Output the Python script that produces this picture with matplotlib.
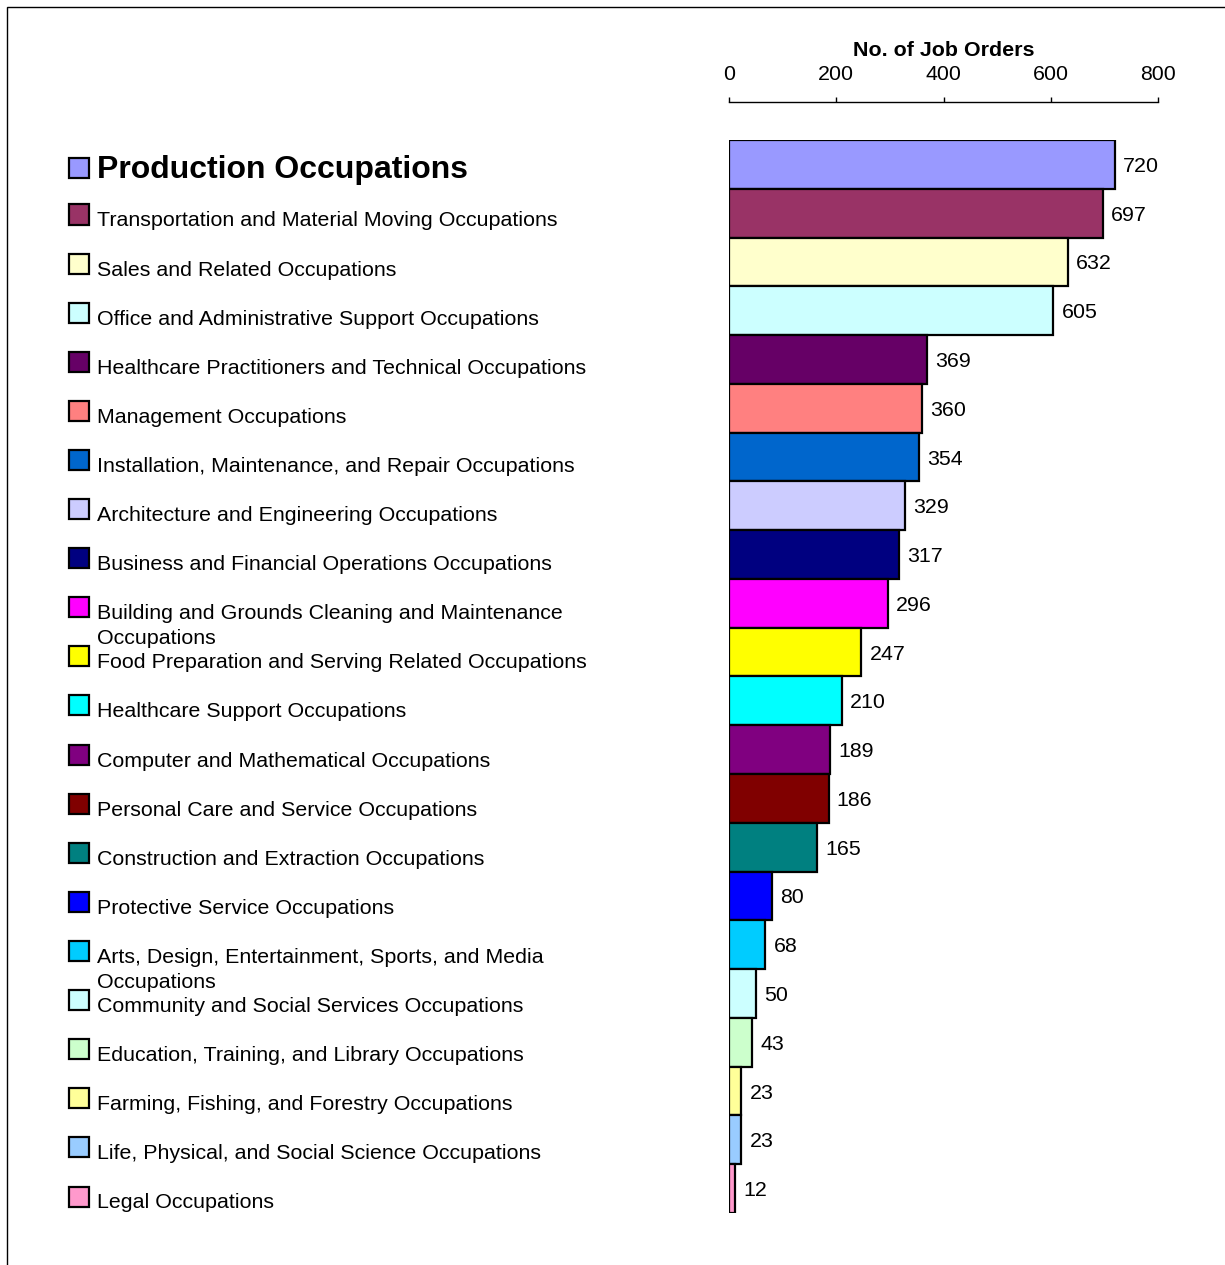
#!/usr/bin/env python3
"""Job orders by occupation group, horizontal bars with a side legend."""
import matplotlib
matplotlib.use("Agg")
import matplotlib.pyplot as plt
from matplotlib.patches import Rectangle

plt.rcParams["font.family"] = ["Liberation Sans", "DejaVu Sans"]

occupations = [
    "Production Occupations",
    "Transportation and Material Moving Occupations",
    "Sales and Related Occupations",
    "Office and Administrative Support Occupations",
    "Healthcare Practitioners and Technical Occupations",
    "Management Occupations",
    "Installation, Maintenance, and Repair Occupations",
    "Architecture and Engineering Occupations",
    "Business and Financial Operations Occupations",
    "Building and Grounds Cleaning and Maintenance\nOccupations",
    "Food Preparation and Serving Related Occupations",
    "Healthcare Support Occupations",
    "Computer and Mathematical Occupations",
    "Personal Care and Service Occupations",
    "Construction and Extraction Occupations",
    "Protective Service Occupations",
    "Arts, Design, Entertainment, Sports, and Media\nOccupations",
    "Community and Social Services Occupations",
    "Education, Training, and Library Occupations",
    "Farming, Fishing, and Forestry Occupations",
    "Life, Physical, and Social Science Occupations",
    "Legal Occupations",
]
job_orders = [720, 697, 632, 605, 369, 360, 354, 329, 317, 296, 247,
              210, 189, 186, 165, 80, 68, 50, 43, 23, 23, 12]
colors = ["#9999FF", "#993366", "#FFFFCC", "#CCFFFF", "#660066", "#FF8080",
          "#0066CC", "#CCCCFF", "#000080", "#FF00FF", "#FFFF00", "#00FFFF",
          "#800080", "#800000", "#008080", "#0000FF", "#00CCFF", "#CCFFFF",
          "#CCFFCC", "#FFFF99", "#99CCFF", "#FF99CC"]
xticks = [0, 200, 400, 600, 800]

W, H = 1225, 1265
DPI = 100
FS = 15.4


def main():
    fig = plt.figure(figsize=(W / DPI, H / DPI), dpi=DPI)
    # axes spans exactly the bars: x 729..1158 px, y 140..1213 px
    ax = fig.add_axes([729 / W, 1 - 1213 / H, (1158 - 729) / W, (1213 - 140) / H])

    n = len(job_orders)
    ypos = list(range(n))
    ax.barh(ypos, job_orders, height=1.0, color=colors,
            edgecolor="black", linewidth=1.6)
    ax.set_xlim(0, 800)
    ax.set_ylim(n - 0.5, -0.5)

    for y, v in zip(ypos, job_orders):
        ax.annotate(str(v), (v, y), xytext=(5.8, 0), textcoords="offset points",
                    va="center_baseline", ha="left", fontsize=FS)

    # top axis only
    for s in ("left", "right", "bottom"):
        ax.spines[s].set_visible(False)
    ax.spines["top"].set_position(("outward", 27.4))
    ax.spines["top"].set_linewidth(1.0)
    ax.xaxis.set_ticks_position("top")
    ax.xaxis.set_label_position("top")
    ax.set_xticks(xticks)
    ax.tick_params(axis="x", direction="out", length=3.6, width=1.0,
                   pad=9, labelsize=FS)
    ax.set_yticks([])
    ax.set_xlabel("No. of Job Orders", fontsize=FS, fontweight="bold",
                  labelpad=6.5)

    # side legend, rows line up with the bars
    for i, (lab, c) in enumerate(zip(occupations, colors)):
        if i == 0:
            base = 178
            sq = 168
            kw = dict(fontsize=23, fontweight="bold")
        else:
            base = 226.5 + 49.1 * (i - 1)
            sq = base - 12
            kw = dict(fontsize=FS)
        for k, line in enumerate(lab.split("\n")):
            fig.text(97 / W, 1 - (base + 25 * k) / H, line, va="baseline",
                     ha="left", **kw)
        fig.patches.append(Rectangle((69 / W, 1 - (sq + 10) / H), 20 / W, 20 / H,
                                     transform=fig.transFigure,
                                     facecolor=c, edgecolor="black",
                                     linewidth=1.6, figure=fig))

    # outer frame
    fig.patches.append(Rectangle((7 / W, -0.1), 1.2, 1.1 - 7 / H,
                                 transform=fig.transFigure, fill=False,
                                 edgecolor="black", linewidth=1.0, figure=fig))

    fig.savefig("out.png", dpi=DPI)


if __name__ == "__main__":
    main()
